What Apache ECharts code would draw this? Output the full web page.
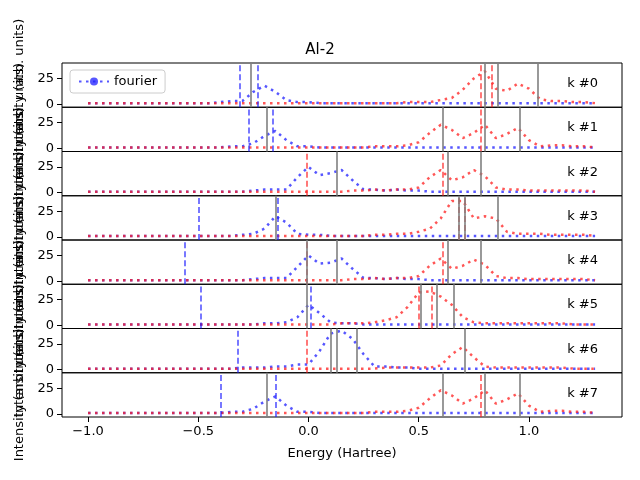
<!DOCTYPE html>
<html><head><meta charset="utf-8">
<script src="https://cdn.jsdelivr.net/npm/echarts@6/dist/echarts.min.js"></script>
<style>body{margin:0;background:#fff}#c{width:640px;height:480px}</style>
</head><body><div id="c"></div>
<script>
// energy grid, step 0.05 from -1.0 to 1.3
var energy = [];
for (var i = 0; i < 47; i++) energy.push(Math.round((-1 + 0.05 * i) * 100) / 100);

var blue0 = [1,1,1,1,1,1,1,1,1,1, 1,1,2,3,3,12,18,12,4,2, 2,1,1,1,1,1,1,1,1,1, 1,1,1,1,1,1,1,1,1,1, 1,1,1,1,1,1,1];
var red0  = [1,1,1,1,1,1,1,1,1,1, 1,1,1,1,1,1,1,1,1,1, 1,1,1,1,1,1,1,1,1,2, 2,2,4,6,14,25,32,15,13,20, 15,5,3,3,2,2,1];
var blue1 = [1,1,1,1,1,1,1,1,1,1, 1,1,1,2,2,5,12,17,8,2, 2,1,1,1,1,1,1,1,1,1, 1,1,1,1,1,1,1,1,1,1, 1,1,1,1,1,1,1];
var red1  = [1,1,1,1,1,1,1,1,1,1, 1,1,1,1,1,1,1,1,1,1, 1,1,1,1,1,1,2,2,2,3, 6,15,23,18,10,15,23,10,14,20, 8,2,3,3,2,2,1];
var blue2 = [1,1,1,1,1,1,1,1,1,1, 1,1,1,1,1,2,3,3,3,15, 25,17,19,22,12,3,3,2,3,2, 2,1,1,1,1,1,1,1,1,1, 1,1,1,1,1,1,1];
var red2  = [1,1,1,1,1,1,1,1,1,1, 1,1,1,1,1,1,1,1,1,1, 1,1,1,1,2,2,3,2,3,3, 5,15,22,12,15,22,16,5,3,3, 2,2,2,2,2,2,1];
var blue3 = [1,1,1,1,1,1,1,1,1,1, 1,1,1,1,2,3,8,20,14,3, 2,2,1,1,1,1,1,1,1,1, 1,1,1,1,1,1,1,1,1,1, 1,1,1,1,1,1,1];
var red3  = [1,1,1,1,1,1,1,1,1,1, 1,1,1,1,1,1,1,1,1,1, 1,1,1,1,1,1,2,2,3,3, 5,8,18,35,35,18,20,18,5,3, 3,3,2,2,2,2,1];
var blue4 = [1,1,1,1,1,1,1,1,1,1, 1,1,1,1,1,2,3,3,3,14, 25,17,18,22,12,3,3,2,3,2, 2,1,1,1,1,1,1,1,1,1, 1,1,1,1,1,1,1];
var red4  = [1,1,1,1,1,1,1,1,1,1, 1,1,1,1,1,1,1,1,1,1, 1,1,1,1,2,2,3,2,3,3, 5,15,22,12,15,21,16,5,3,3, 2,2,2,2,2,2,1];
var blue5 = [1,1,1,1,1,1,1,1,1,1, 1,1,1,1,1,1,2,2,3,8, 20,12,3,2,2,1,1,1,1,1, 1,1,1,1,1,1,1,1,1,1, 1,1,1,1,1,1,1];
var red5  = [1,1,1,1,1,1,1,1,1,1, 1,1,1,1,1,1,1,1,1,1, 1,1,1,2,2,2,3,5,8,18, 32,33,28,20,8,3,2,2,2,2, 2,2,2,2,1,1,1];
var blue6 = [1,1,1,1,1,1,1,1,1,1, 1,1,1,1,2,2,2,3,3,5, 5,18,35,38,30,15,3,3,2,2, 1,1,1,1,1,1,1,1,1,1, 1,1,1,1,1,1,1];
var red6  = [1,1,1,1,1,1,1,1,1,1, 1,1,1,1,1,1,1,1,1,1, 1,1,1,1,1,1,1,2,2,2, 2,2,4,15,22,12,3,2,2,2, 2,2,2,2,1,1,1];
var blue7 = [1,1,1,1,1,1,1,1,1,1, 1,1,1,2,2,5,12,17,8,2, 2,1,1,1,1,1,1,1,1,1, 1,1,1,1,1,1,1,1,1,1, 1,1,1,1,1,1,1];
var red7  = [1,1,1,1,1,1,1,1,1,1, 1,1,1,1,1,1,1,1,1,1, 1,1,1,1,1,1,2,2,2,3, 6,15,23,18,10,15,23,10,14,20, 8,2,3,3,2,2,1];

// vertical markers per k point
var blueLines = [[-0.31,-0.225],[-0.266,-0.156],[],[-0.504,-0.135],[-0.558],[-0.489,0.007],[-0.319],[-0.399,-0.154]];
var redLines  = [[0.775,0.828],[0.775],[-0.005,0.611],[0.675,0.708],[-0.005,0.614],[0.499,0.565],[-0.005],[0.775]];
var grayLines = [[-0.264,0.798,0.856,1.041],[-0.192,0.606,0.798,0.956],[0.128,0.627,0.782],[-0.146,0.68,0.714,0.856],
                 [-0.01,0.128,0.631,0.783],[-0.015,0.509,0.576,0.657],[0.099,0.128,0.22,0.709],[-0.192,0.608,0.798,0.956]];
var blues = [blue0,blue1,blue2,blue3,blue4,blue5,blue6,blue7];
var reds = [red0,red1,red2,red3,red4,red5,red6,red7];
var kLabels = ['k #0','k #1','k #2','k #3','k #4','k #5','k #6','k #7'];
var xTicks = [-1.0,-0.5,0.0,0.5,1.0];

var BLUE = 'rgba(30,30,255,0.75)', RED = 'rgba(255,30,30,0.75)';
var top0 = 63, ph = 44.25;
var grids = [], xAxes = [], yAxes = [], series = [], graphics = [];

function pairs(arr){ return energy.map(function(e,j){ return [e, arr[j]]; }); }

for (var k = 0; k < 8; k++) {
    grids.push({left:62, right:18, top: top0 + ph*k, height: ph, show:true, borderColor:'#000', borderWidth:1, backgroundColor:'transparent'});
    var last = (k == 7);
    xAxes.push({type:'value', gridIndex:k, min:-1.118, max:1.422, splitLine:{show:false}, axisLine:{show:false, onZero:false},
        axisTick:{show:last, customValues:xTicks, lineStyle:{color:'#000'}},
        axisLabel:{show:last, customValues:xTicks, color:'#000', fontSize:13, formatter:function(v){ return (v<0?'\u2212':'') + Math.abs(v).toFixed(1); }},
        name: last ? 'Energy (Hartree)' : '', nameLocation:'middle', nameGap:30, nameTextStyle:{color:'#000', fontSize:13}});
    yAxes.push({type:'value', gridIndex:k, min:-3, max:40, position:'left', splitLine:{show:false}, axisLine:{show:false, onZero:false},
        axisTick:{show:true, customValues:[0,25], lineStyle:{color:'#000'}},
        axisLabel:{customValues:[0,25], color:'#000', fontSize:13},
        name:'Intensity (arb. units)', nameLocation:'middle', nameGap:33, nameTextStyle:{color:'#000', fontSize:13}});

    var ml = [];
    blueLines[k].forEach(function(x){ ml.push({xAxis:x, lineStyle:{color:BLUE, type:[6,3], width:1.6}}); });
    redLines[k].forEach(function(x){ ml.push({xAxis:x, lineStyle:{color:RED, type:[6,3], width:1.6}}); });
    grayLines[k].forEach(function(x){ ml.push({xAxis:x, lineStyle:{color:'#808080', type:'solid', width:1.6}}); });

    series.push({type:'line', name:'fourier', xAxisIndex:k, yAxisIndex:k, data:pairs(blues[k]), symbol:'none', z:3,
        lineStyle:{color:BLUE, type:[2.5,4.5], width:2.5}, itemStyle:{color:BLUE}});
    series.push({type:'line', name:'red'+k, xAxisIndex:k, yAxisIndex:k, data:pairs(reds[k]), symbol:'none', z:3,
        lineStyle:{color:RED, type:[2.5,4.5], width:2.5}, itemStyle:{color:RED},
        markLine:{silent:true, symbol:'none', label:{show:false}, animation:false, data:ml}});
    graphics.push({type:'text', right:42, top: top0 + ph*k + ph/2 - 8, style:{text:kLabels[k], fill:'#000', font:'13px DejaVu Sans'}});
}

var chart = echarts.init(document.getElementById('c'));
chart.setOption({
    animation:false,
    textStyle:{fontFamily:'DejaVu Sans'},
    title:{text:'Al-2', left:'center', top:38, textStyle:{fontSize:15, fontWeight:'normal', color:'#000'}},
    legend:{data:['fourier'], left:70, top:70, orient:'vertical', backgroundColor:'#fff', borderColor:'#ccc', borderWidth:1, borderRadius:3,
        padding:[5,8], itemWidth:30, itemHeight:10, textStyle:{fontSize:13, color:'#000'}},
    grid:grids, xAxis:xAxes, yAxis:yAxes, series:series, graphic:graphics
});
</script>
</body></html>
